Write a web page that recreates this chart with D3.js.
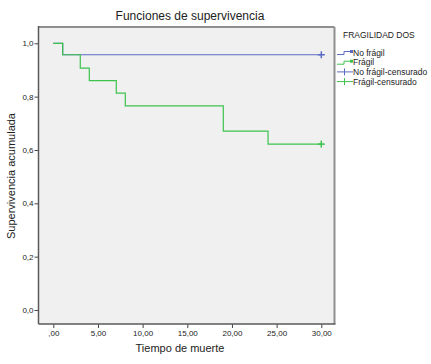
<html>
<head>
<script src="https://d3js.org/d3.v7.min.js"></script>
<style>
  body { margin: 0; background: white; }
  text { font-family: "Liberation Sans", Arial, sans-serif; fill: #222; }
</style>
</head>
<body>
<svg id="chart" width="431" height="364"></svg>
<script>
// survival steps
const noFragilTimes = [0, 1.05, 30];
const noFragilSurv  = [1.0, 0.957, 0.957];
const fragilTimes = [0, 1.05, 3.02, 4.03, 7.05, 8.06, 19.03, 24.04, 30];
const fragilSurv  = [1.0, 0.957, 0.907, 0.86, 0.813, 0.765, 0.671, 0.622, 0.622];
const censorNoFragil = [{t: 30, s: 0.957}];
const censorFragil   = [{t: 30, s: 0.622}];

const xTicks = [0, 5, 10, 15, 20, 25, 30];
const xTickLabels = [",00", "5,00", "10,00", "15,00", "20,00", "25,00", "30,00"];
const yTicks = [0, 0.2, 0.4, 0.6, 0.8, 1.0];
const yTickLabels = ["0,0", "0,2", "0,4", "0,6", "0,8", "1,0"];
const legendLabels = ["No frágil", "Frágil", "No frágil-censurado", "Frágil-censurado"];

const blue = "#5a6cc4", green = "#3dc24c";

const svg = d3.select("#chart");
const box = {left: 38.5, right: 334.5, top: 27, bottom: 324};

const x = d3.scaleLinear().domain([0, 30]).range([53.3, 321.3]);
const y = d3.scaleLinear().domain([0, 1]).range([310, 43.3]);

// plot background + border
svg.append("rect").attr("x", box.left).attr("y", box.top)
   .attr("width", box.right - box.left).attr("height", box.bottom - box.top)
   .attr("fill", "#f0f0f0");
svg.append("line").attr("x1", box.left).attr("x2", box.right).attr("y1", box.top).attr("y2", box.top)
   .attr("stroke", "#8f8f8f").attr("stroke-width", 2);
svg.append("line").attr("x1", box.right).attr("x2", box.right).attr("y1", box.top).attr("y2", box.bottom)
   .attr("stroke", "#8f8f8f").attr("stroke-width", 2);

// axes
const xAxis = svg.append("g").attr("transform", `translate(0,${box.bottom})`)
   .call(d3.axisBottom(x).tickValues(xTicks).tickFormat((d, i) => xTickLabels[i]).tickSize(4).tickPadding(2));
const yAxis = svg.append("g").attr("transform", `translate(${box.left},0)`)
   .call(d3.axisLeft(y).tickValues(yTicks).tickFormat((d, i) => yTickLabels[i]).tickSize(4).tickPadding(1));
[xAxis, yAxis].forEach(g => {
  g.select(".domain").remove();
  g.selectAll("line").attr("stroke", "#444");
  g.selectAll("text").attr("font-size", 8).attr("font-family", "Liberation Sans, Arial, sans-serif").attr("fill", "#1a1a1a");
});
svg.append("line").attr("x1", box.left).attr("x2", box.left).attr("y1", box.top - 1).attr("y2", box.bottom)
   .attr("stroke", "#5a5a5a").attr("stroke-width", 1.5);
svg.append("line").attr("x1", box.left).attr("x2", box.right + 1).attr("y1", box.bottom).attr("y2", box.bottom)
   .attr("stroke", "#5a5a5a").attr("stroke-width", 1.5);

// step curves
const step = d3.line().x(d => x(d[0])).y(d => y(d[1])).curve(d3.curveStepAfter);
svg.append("path").datum(d3.zip(noFragilTimes, noFragilSurv))
   .attr("d", step).attr("fill", "none").attr("stroke", blue).attr("stroke-width", 1.2);
svg.append("path").datum(d3.zip(fragilTimes, fragilSurv))
   .attr("d", step).attr("fill", "none").attr("stroke", green).attr("stroke-width", 1.2);

function plus(g, px, py, col) {
  g.append("line").attr("x1", px - 3.5).attr("x2", px + 3.5).attr("y1", py).attr("y2", py).attr("stroke", col).attr("stroke-width", 1.5);
  g.append("line").attr("x1", px).attr("x2", px).attr("y1", py - 3.5).attr("y2", py + 3.5).attr("stroke", col).attr("stroke-width", 1.5);
}
censorNoFragil.forEach(d => plus(svg, x(d.t), y(d.s), blue));
censorFragil.forEach(d => plus(svg, x(d.t), y(d.s), green));

// titles
svg.append("text").attr("x", 190).attr("y", 20).attr("text-anchor", "middle")
   .attr("font-size", 12).text("Funciones de supervivencia");
svg.append("text").attr("x", 180).attr("y", 352).attr("text-anchor", "middle")
   .attr("font-size", 11).text("Tiempo de muerte");
svg.append("text").attr("transform", "translate(15,176) rotate(-90)").attr("text-anchor", "middle")
   .attr("font-size", 11).text("Supervivencia acumulada");

// legend
const lg = svg.append("g");
lg.append("text").attr("x", 343).attr("y", 38).attr("font-size", 8.5).text("FRAGILIDAD DOS");
const cols = [blue, green, blue, green];
legendLabels.forEach((lab, i) => {
  const cy = 52.5 + i * 9.7;
  const c = cols[i];
  if (i < 2) {
    lg.append("path").attr("d", `M337,${cy + 2}H344V${cy - 1}H352`)
      .attr("fill", "none").attr("stroke", c).attr("stroke-width", 1);
    lg.append("rect").attr("x", 350).attr("y", cy - 2.5).attr("width", 3).attr("height", 3).attr("fill", c);
  } else {
    lg.append("line").attr("x1", 337).attr("x2", 353).attr("y1", cy).attr("y2", cy).attr("stroke", c).attr("stroke-width", 1);
    lg.append("line").attr("x1", 344.5).attr("x2", 344.5).attr("y1", cy - 3.5).attr("y2", cy + 3.5).attr("stroke", c).attr("stroke-width", 1);
  }
  lg.append("text").attr("x", 353).attr("y", cy + 3).attr("font-size", 8.5).text(lab);
});
</script>
</body>
</html>
